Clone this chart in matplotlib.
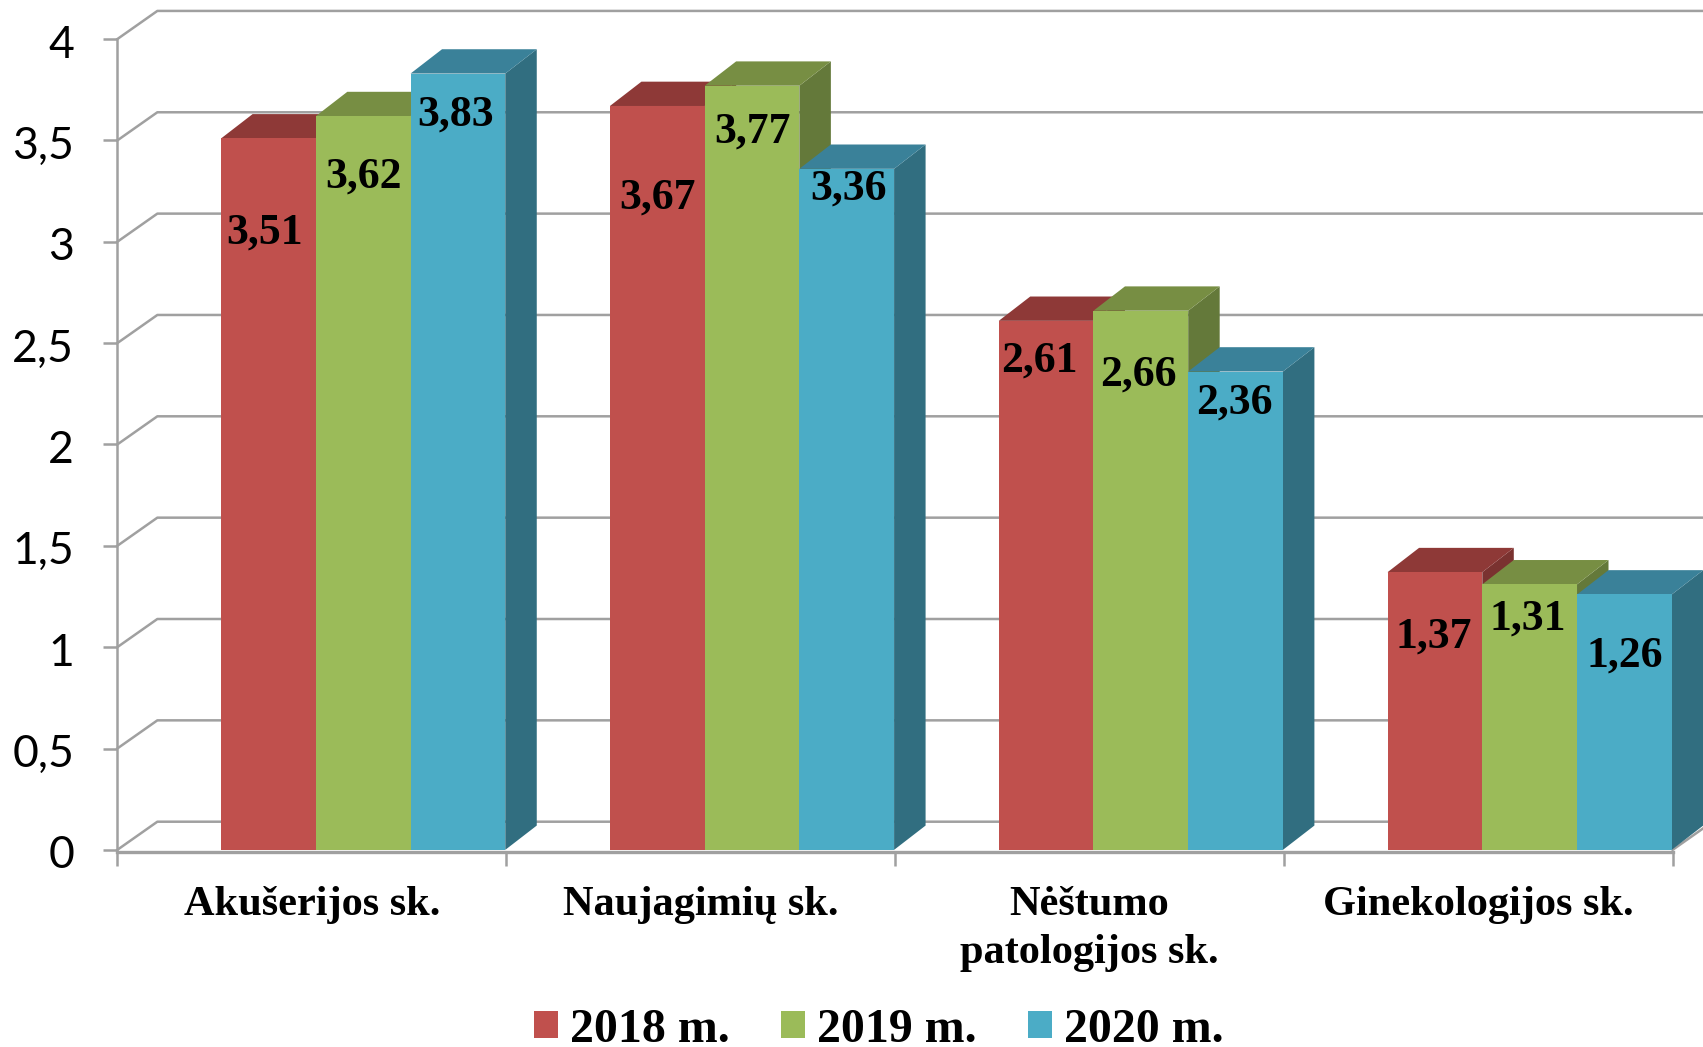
"""3D-look clustered bars: length of stay per department, 2018-2020."""
import matplotlib
matplotlib.use("Agg")  # headless
import matplotlib.pyplot as plt
from matplotlib.patches import Patch
from matplotlib.ticker import FuncFormatter
from matplotlib.transforms import ScaledTranslation

CATEGORIES = ["Akušerijos sk.", "Naujagimių sk.", "Nėštumo\npatologijos sk.", "Ginekologijos sk."]
YEARS = ["2018 m.", "2019 m.", "2020 m."]
VALUES_2018 = [3.51, 3.67, 2.61, 1.37]
VALUES_2019 = [3.62, 3.77, 2.66, 1.31]
VALUES_2020 = [3.83, 3.36, 2.36, 1.26]
Y_TICKS = [0, 0.5, 1, 1.5, 2, 2.5, 3, 3.5, 4]

# label nudges per year and category, (x in categories, y in chart units from bar top)
LABEL_DX = [[-0.01, 0.0, -0.018, -0.004], [0.0, 0.0, -0.006, -0.004], [-0.007, 0.004, -0.004, 0.0]]
LABEL_DY = [[-0.446, -0.433, -0.175, -0.296], [-0.276, -0.205, -0.296, -0.15], [-0.18, -0.075, -0.134, -0.282]]

FRONT = ["#C0504D", "#9BBB59", "#4BACC6"]
TOP = ["#8E3937", "#778E43", "#3A8199"]
SIDE = ["#7A3230", "#64793A", "#316E80"]
GRID = "#A0A0A0"
SERIF = "Liberation Serif"

BAR_START = 0.267
BAR_W = 0.2436
BAR_DX, BAR_DY = 0.081, 0.12  # bar depth
WALL_DX, WALL_DY = 0.103, 0.139  # back wall offset

fig = plt.figure(figsize=(17.03, 10.47), dpi=100)
ax = fig.add_axes([108 / 1568, 1 - 782.5 / 964, (1540 - 108) / 1568, (782.5 - 36) / 964])
ax.set_xlim(0, 4)
ax.set_ylim(0, 4)

# back wall and side wall lines
for v in Y_TICKS:
    ax.plot([0, WALL_DX, 5], [v, v + WALL_DY, v + WALL_DY], color=GRID, lw=1.8, clip_on=False, zorder=1)
ax.plot([4, 4 + WALL_DX], [0, WALL_DY], color=GRID, lw=1.8, clip_on=False, zorder=1)

series = [VALUES_2018, VALUES_2019, VALUES_2020]
z = 3
for c in range(len(CATEGORIES)):
    for s, values in enumerate(series):
        v = values[c]
        x0 = c + BAR_START + s * BAR_W
        x1 = x0 + BAR_W
        ax.fill([x1, x1 + BAR_DX, x1 + BAR_DX, x1], [0, BAR_DY, v + BAR_DY, v],
                color=SIDE[s], lw=0, clip_on=False, zorder=z)
        ax.fill([x0, x0 + BAR_DX, x1 + BAR_DX, x1], [v, v + BAR_DY, v + BAR_DY, v],
                color=TOP[s], lw=0, clip_on=False, zorder=z)
        ax.bar(x0, v, width=BAR_W, align="edge", color=FRONT[s], lw=0, zorder=z + 0.5)
        ax.text(x0 + BAR_W / 2 + LABEL_DX[s][c], v + LABEL_DY[s][c] - 0.02, f"{v:.2f}".replace(".", ","),
                ha="center", va="center", family=SERIF, weight="bold", fontsize=31.5, zorder=50)
        z += 1

for name in ("top", "right"):
    ax.spines[name].set_visible(False)
for name in ("left", "bottom"):
    ax.spines[name].set_color(GRID)
    ax.spines[name].set_zorder(40)
ax.spines["left"].set_linewidth(1.8)
ax.spines["bottom"].set_linewidth(2.4)
ax.spines["bottom"].set_position(("outward", 1.2))

ax.set_yticks(Y_TICKS)
ax.yaxis.set_major_formatter(FuncFormatter(lambda v, _: f"{v:g}".replace(".", ",")))
ax.tick_params(axis="y", length=10, width=1.8, color=GRID, pad=21, labelsize=32)
nudge = ScaledTranslation(0, -1.5 / 72, fig.dpi_scale_trans)
for lab in ax.get_yticklabels():
    lab.set_family("Lato")
    lab.set_transform(lab.get_transform() + nudge)

ax.set_xticks([0, 1, 2, 3, 4])
ax.set_xticklabels([])
ax.tick_params(axis="x", which="major", length=10, width=1.8, color=GRID)
ax.set_xticks([0.5, 1.5, 2.5, 3.5], minor=True)
ax.set_xticklabels(CATEGORIES, minor=True, family=SERIF, weight="bold", fontsize=30.5, linespacing=1.33)
ax.tick_params(axis="x", which="minor", length=0, pad=25)

handles = [Patch(facecolor=col, lw=0, label=y) for col, y in zip(FRONT, YEARS)]
fig.legend(handles=handles, loc="center", bbox_to_anchor=(0.516, 0.0166), ncol=3, frameon=False,
           prop={"family": SERIF, "weight": "bold", "size": 34.5}, handlelength=0.5, handleheight=0.5,
           handletextpad=0.25, columnspacing=1.07, borderpad=0, borderaxespad=0)

fig.savefig("out.png", dpi=100)
plt.close(fig)
